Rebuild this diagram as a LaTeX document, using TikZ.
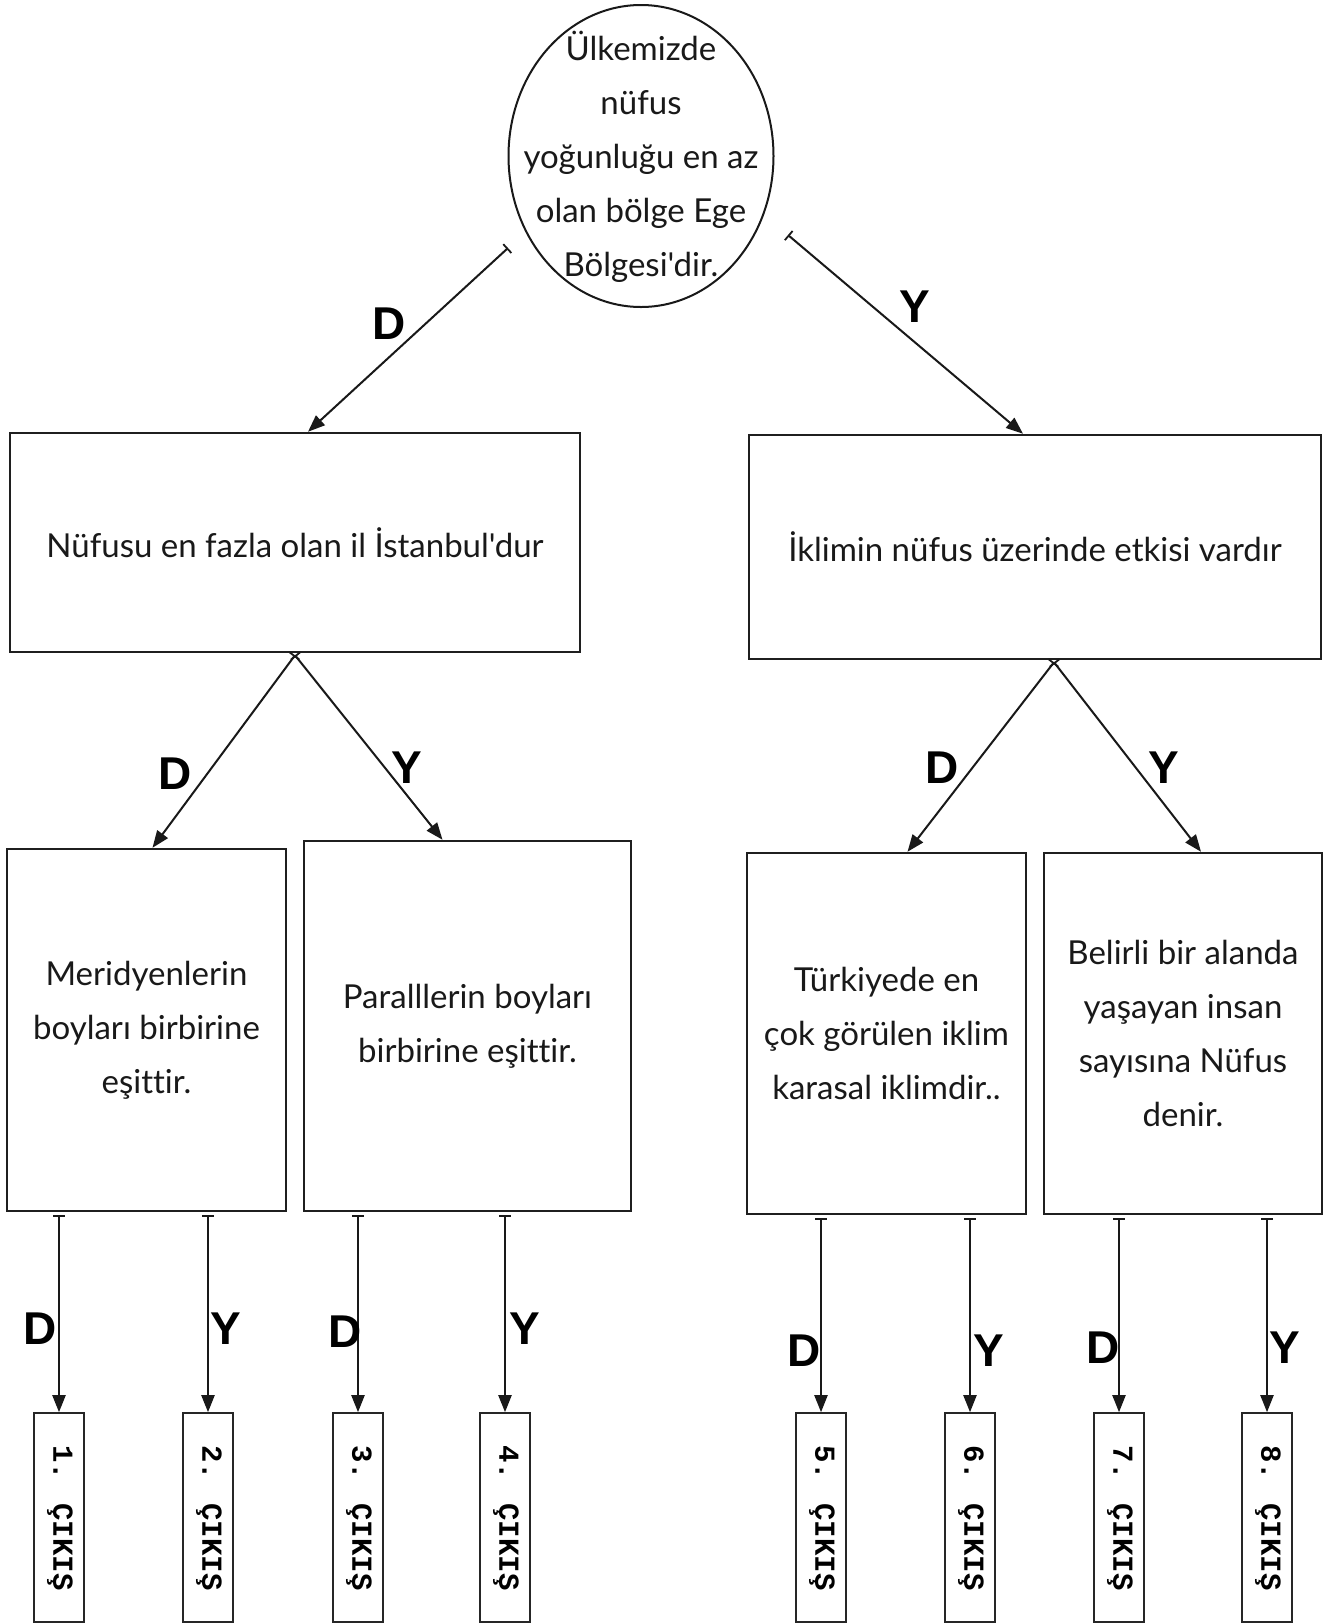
\documentclass[tikz,border=0pt]{standalone}
\usepackage{fontspec}
\setmainfont{Lato}[Ligatures={TeXOff,CommonOff}]
\newfontfamily\labelfont{Liberation Sans}
\newfontfamily\exitfont{Liberation Mono}
\usetikzlibrary{arrows.meta,shapes.geometric}
\begin{document}
\begin{tikzpicture}[x=1pt,y=-1pt,
  txt/.style={font=\fontsize{33}{54}\selectfont,align=center,text=black!90},
  box/.style={draw=black!88,line width=2.5pt,rectangle,inner sep=0pt,txt},
  exitbox/.style={draw=black!85,line width=1.6pt,rectangle,inner sep=0pt,minimum width=50,minimum height=209},
  exittxt/.style={font=\exitfont\bfseries\fontsize{29}{30}\selectfont,rotate=-90,inner sep=0pt},
  lbl/.style={font=\labelfont\bfseries\fontsize{46}{46}\selectfont,inner sep=0pt},
  conn/.style={draw=black!90,line width=2pt,{Bar[width=12pt,line width=1.8pt]}-{Triangle[length=17pt,width=13pt]}},
]
\useasboundingbox (0,0) rectangle (1326,1623);
\fill[white] (0,0) rectangle (1326,1623);

% root ellipse
\node[ellipse,draw=black!90,line width=2pt,minimum width=265,minimum height=302,inner sep=0pt] (E) at (641,156) {};
\node[txt] (Et) at (641,157) {Ülkemizde\\nüfus\\yoğunluğu en az\\olan bölge Ege\\Bölgesi'dir.};

% level 1
\node[box,minimum width=570,minimum height=219] (A) at (295,542.5) {Nüfusu en fazla olan il İstanbul'dur};
\node[box,minimum width=572,minimum height=224] (B) at (1035,547) {İklimin nüfus üzerinde etkisi vardır};

% level 2
\node[box,minimum width=279,minimum height=362] (C) at (146.5,1030) {Meridyenlerin\\boyları birbirine\\eşittir.};
\node[box,minimum width=327,minimum height=370] (D) at (467.5,1026) {Paralllerin boyları\\birbirine eşittir.};
\node[box,minimum width=279,minimum height=361] (F) at (886.5,1033.5) {Türkiyede en\\çok görülen iklim\\karasal iklimdir..};
\node[box,minimum width=278,minimum height=361] (G) at (1183,1033.5) {Belirli bir alanda\\yaşayan insan\\sayısına Nüfus\\denir.};

% exits
\foreach \i/\x in {1/59,2/208,3/358,4/505,5/821,6/970,7/1119,8/1267}{
  \node[exitbox] (o\i) at (\x,1517.5) {};
  \node[exittxt] (ot\i) at (\x+1,1518) {\i. ÇIKIŞ};
}

% connectors
\coordinate (eL) at (508,248);
\coordinate (eR) at (788,235);
\draw[conn] (eL) -- ([xshift=13]A.north);
\draw[conn] (eR) -- ([xshift=-12]B.north);

\draw[conn] ([yshift=-2]A.south) -- ([xshift=6]C.north);
\draw[conn] ([yshift=-2]A.south) -- ([xshift=-25]D.north);
\draw[conn] ([xshift=19,yshift=-2]B.south) -- ([xshift=21]F.north);
\draw[conn] ([xshift=19,yshift=-2]B.south) -- ([xshift=18]G.north);

\foreach \i/\p in {1/C,2/C,3/D,4/D,5/F,6/F,7/G,8/G}{
  \draw[conn] ([yshift=-3]o\i.north |- \p.south) -- (o\i.north);
}

% labels
\node[lbl] (lD1) at (389,324) {D};
\node[lbl] (lY1) at (915,307) {Y};
\node[lbl] (lD2) at (175,774) {D};
\node[lbl] (lY2) at (407,768) {Y};
\node[lbl] (lD3) at (942,768) {D};
\node[lbl] (lY3) at (1164,768) {Y};
\node[lbl] (lD4) at (40,1329) {D};
\node[lbl] (lY4) at (226,1329) {Y};
\node[lbl] (lD5) at (345,1332) {D};
\node[lbl] (lY5) at (525,1329) {Y};
\node[lbl] (lD6) at (804,1351) {D};
\node[lbl] (lY6) at (989,1351) {Y};
\node[lbl] (lD7) at (1103,1348) {D};
\node[lbl] (lY7) at (1285,1348) {Y};
\end{tikzpicture}
\end{document}
